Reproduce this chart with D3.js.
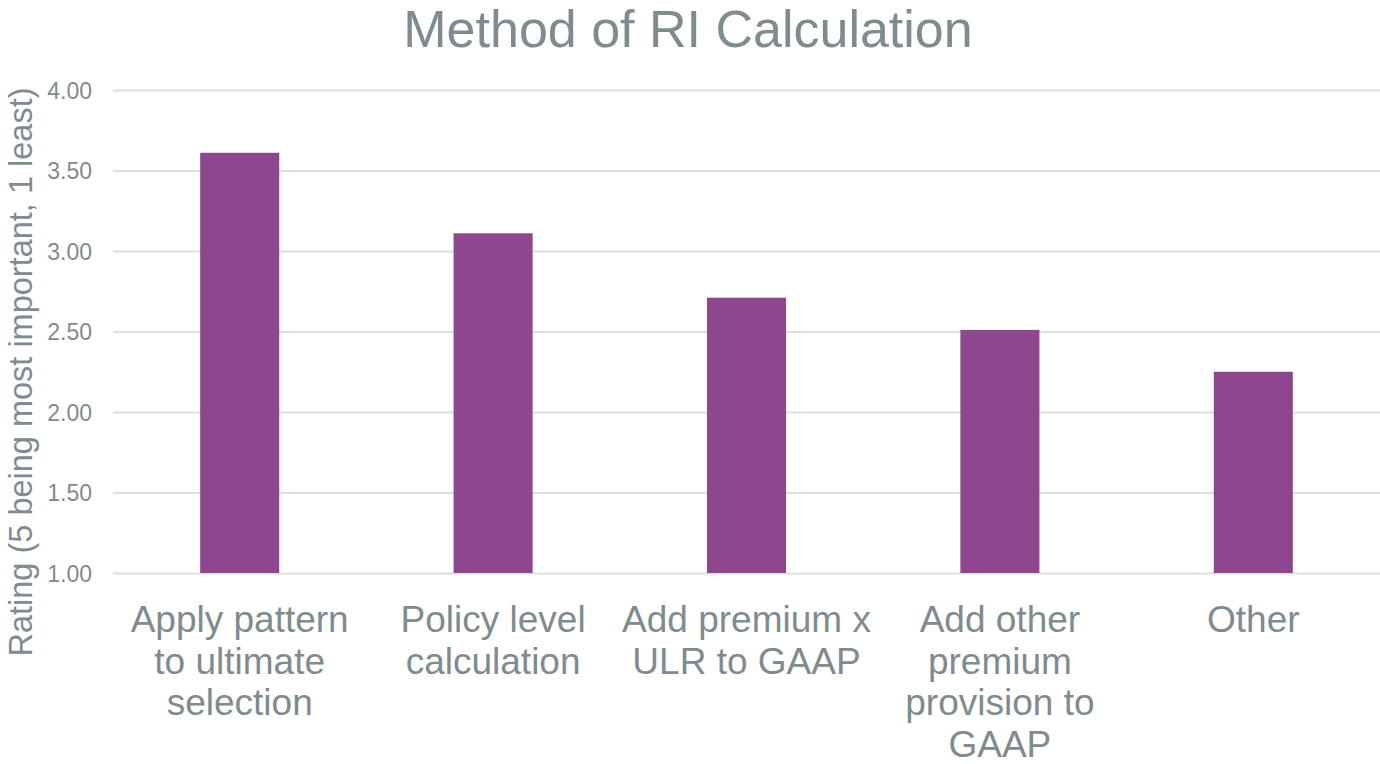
<!DOCTYPE html>
<html>
<head>
<meta charset="utf-8">
<script src="https://cdn.jsdelivr.net/npm/d3@7"></script>
<style>
  html, body { margin: 0; padding: 0; background: #fff; }
  svg { display: block; font-family: "Liberation Sans", Arial, sans-serif; }
</style>
</head>
<body>
<svg id="chart" width="1380" height="764"></svg>
<script>
const title = "Method of RI Calculation";
const yAxisTitle = "Rating (5 being most important, 1 least)";
const categories = [
  ["Apply pattern", "to ultimate", "selection"],
  ["Policy level", "calculation"],
  ["Add premium x", "ULR to GAAP"],
  ["Add other", "premium", "provision to", "GAAP"],
  ["Other"]
];
const values = [3.61, 3.11, 2.71, 2.51, 2.25];
const yTicks = [1.0, 1.5, 2.0, 2.5, 3.0, 3.5, 4.0];

const textColor = "#7f8b8e";
const barColor = "#8e478f";
const gridColor = "#dedede";

const svg = d3.select("#chart");
const x0 = 113, x1 = 1380, yTop = 90, yBottom = 573;

const keys = categories.map((c, i) => i);
const x = d3.scaleBand().domain(keys).range([x0, x1])
  .paddingInner(0.688).paddingOuter(0.344);
const y = d3.scaleLinear().domain([1, 4]).range([yBottom, yTop]);

// gridlines
const yAxis = d3.axisLeft(y).tickValues(yTicks).tickFormat(d3.format(".2f"))
  .tickSize(-(x1 - x0)).tickPadding(21);
const gy = svg.append("g").attr("transform", `translate(${x0},0)`).call(yAxis);
gy.select(".domain").remove();
gy.selectAll(".tick line").attr("stroke", gridColor).attr("stroke-width", 2);
gy.selectAll(".tick text").attr("fill", textColor)
  .style("font-size", "23px").style("font-family", "'Liberation Sans', Arial, sans-serif")
  .attr("dy", "0.35em");

// bars
svg.append("g").selectAll("rect").data(values).join("rect")
  .attr("x", (d, i) => x(i))
  .attr("width", x.bandwidth())
  .attr("y", d => y(d))
  .attr("height", d => y(1) - y(d))
  .attr("fill", barColor);

// category labels
const labels = svg.append("g").selectAll("text").data(categories).join("text")
  .attr("text-anchor", "middle")
  .attr("fill", textColor)
  .style("font-size", "37px")
  .attr("x", (d, i) => x(i) + x.bandwidth() / 2)
  .attr("y", 632);
labels.each(function(lines, i) {
  const t = d3.select(this);
  lines.forEach((ln, j) => {
    t.append("tspan")
      .attr("x", x(i) + x.bandwidth() / 2)
      .attr("y", 632 + j * 41.5)
      .text(ln);
  });
});

// title
svg.append("text")
  .attr("x", 688).attr("y", 47)
  .attr("text-anchor", "middle")
  .attr("fill", textColor)
  .style("font-size", "52px")
  .text(title);

// y axis title
svg.append("text")
  .attr("transform", "translate(32,372) rotate(-90)")
  .attr("text-anchor", "middle")
  .attr("fill", textColor)
  .style("font-size", "32.5px")
  .text(yAxisTitle);
</script>
</body>
</html>
